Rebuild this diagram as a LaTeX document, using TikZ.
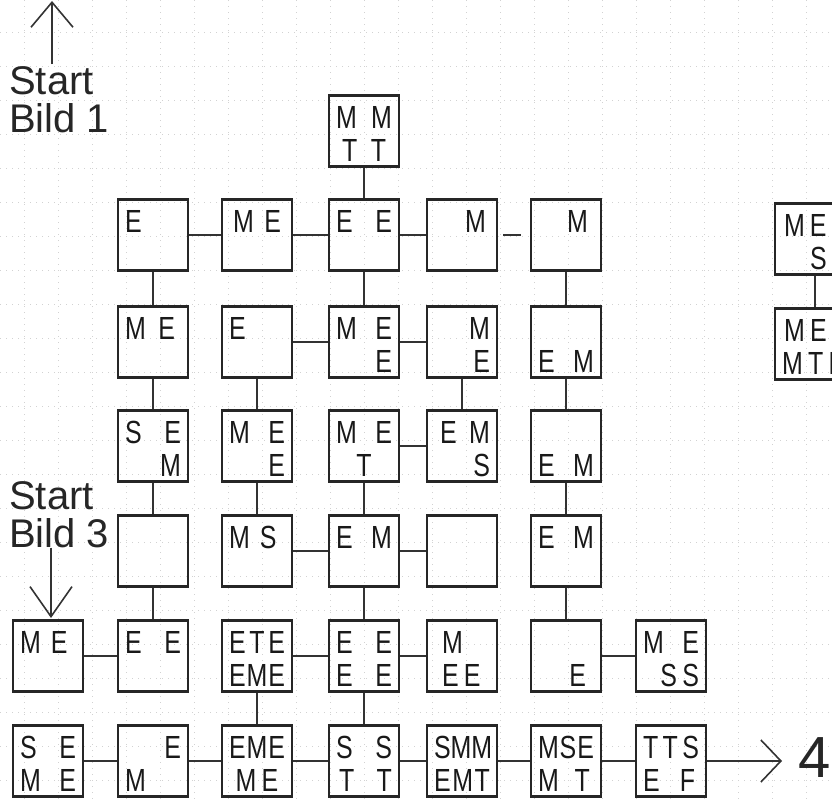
\documentclass[tikz,border=0pt]{standalone}
\usepackage{fontspec}
\setmainfont{Liberation Sans}
\newfontfamily\handfont[FakeStretch=0.78]{Liberation Sans}
\usetikzlibrary{arrows.meta,calc}
\tikzset{
  cell/.style={draw=black!85, line width=2.4pt, minimum width=70pt, minimum height=71pt, inner sep=0pt},
  txt/.style={inner sep=0pt, font=\handfont\fontsize{32}{32}\selectfont, text=black!90},
  conn/.style={draw=black!80, line width=1.6pt},
  gridline/.style={draw=gray!35, line width=0.6pt, dash pattern=on 1pt off 5pt},
  bigtext/.style={inner sep=0pt, font=\fontsize{40}{38}\selectfont, align=left, text=black!85},
  barbtip/.style={-{Straight Barb[length=#1, width=42pt]}},
}
\newcommand\drawmycell[4]{%
  \node[cell] (#1) at (#2) {};%
  \node[txt, anchor=base] (#1-a) at ($(#1.center)+(0,-3)$) {\makebox[56pt][l]{#3}};%
  \node[txt, anchor=base] (#1-b) at ($(#1.center)+(0,30)$) {\makebox[56pt][l]{#4}};%
}
\begin{document}
\begin{tikzpicture}[x=1pt, y=-1pt]
\useasboundingbox (0,0) rectangle (832,803);
\fill[white] (0,0) rectangle (832,803);
\clip (0,0) rectangle (832,803);
% faint graph paper
\foreach \gx in {24,58,...,830} {\draw[gridline] (\gx,0) -- (\gx,803);}
\foreach \gy in {32,66,...,800} {\draw[gridline] (0,\gy) -- (832,\gy);}
% top box
\drawmycell{rT}{364,131}{M\hfill M}{\hspace{6pt}T\hfill T\hspace{6pt}}
% row 0
\drawmycell{r0c1}{153,235}{E}{\strut}
\drawmycell{r0c2}{257,235}{\hspace{4pt}M\hfill E\hspace{4pt}}{\strut}
\drawmycell{r0c3}{364,235}{E\hfill E}{\strut}
\drawmycell{r0c4}{462,235}{\hfill M\hspace{4pt}}{\strut}
\drawmycell{r0c5}{566,235}{\hfill M\hspace{6pt}}{\strut}
% row 1
\drawmycell{r1c1}{153,342}{M\hfill E\hspace{6pt}}{\strut}
\drawmycell{r1c2}{257,342}{E}{\strut}
\drawmycell{r1c3}{364,342}{M\hfill E}{\hfill E}
\drawmycell{r1c4}{462,342}{\hfill M}{\hfill E}
\drawmycell{r1c5}{566,342}{\strut}{E\hfill M}
% row 2
\drawmycell{r2c1}{153,446}{S\hfill E}{\hfill M}
\drawmycell{r2c2}{257,446}{M\hfill E}{\hfill E}
\drawmycell{r2c3}{364,446}{M\hfill E}{\hfill T\hfill}
\drawmycell{r2c4}{462,446}{\hspace{6pt}E\hfill M}{\hfill S}
\drawmycell{r2c5}{566,446}{\strut}{E\hfill M}
% row 3
\drawmycell{r3c1}{153,551}{\strut}{\strut}
\drawmycell{r3c2}{257,551}{M\hspace{10pt}S}{\strut}
\drawmycell{r3c3}{364,551}{E\hfill M}{\strut}
\drawmycell{r3c4}{462,551}{\strut}{\strut}
\drawmycell{r3c5}{566,551}{E\hfill M}{\strut}
% row 4
\drawmycell{r4c0}{48,656}{M\hspace{10pt}E}{\strut}
\drawmycell{r4c1}{153,656}{E\hfill E}{\strut}
\drawmycell{r4c2}{257,656}{E\hfill T\hfill E}{E\hfill M\hfill E}
\drawmycell{r4c3}{364,656}{E\hfill E}{E\hfill E}
\drawmycell{r4c4}{462,656}{\hspace{8pt}M}{\hspace{8pt}E\,E}
\drawmycell{r4c5}{566,656}{\strut}{\hfill E\hspace{8pt}}
\drawmycell{r4c6}{671,656}{M\hfill E}{\hfill S\,S}
% row 5
\drawmycell{r5c0}{48,761}{S\hfill E}{M\hfill E}
\drawmycell{r5c1}{153,761}{\hfill E}{M}
\drawmycell{r5c2}{257,761}{E\hfill M\hfill E}{\hfill M\,E\hfill}
\drawmycell{r5c3}{364,761}{S\hfill S}{\hspace{3pt}T\hfill T}
\drawmycell{r5c4}{462,761}{S\hfill M\hfill M}{E\hfill M\hfill T}
\drawmycell{r5c5}{566,761}{M\hfill S\hfill E}{M\hfill T\hspace{4pt}}
\drawmycell{r5c6}{671,761}{T\hfill T\hfill S}{E\hfill F\hspace{4pt}}
% right boxes (cut by the page edge)
\drawmycell{rA}{810,239}{\hspace{2pt}M\hspace{5pt}E}{\hspace{28pt}S}
\drawmycell{rB}{810,344}{\hspace{2pt}M\,E\,M}{M\,T\,E}
% horizontal connectors
\foreach \p/\q in {r0c1/r0c2, r0c2/r0c3, r0c3/r0c4,
                   r1c2/r1c3, r1c3/r1c4,
                   r2c3/r2c4,
                   r3c2/r3c3, r3c3/r3c4,
                   r4c0/r4c1, r4c2/r4c3, r4c3/r4c4, r4c5/r4c6,
                   r5c0/r5c1, r5c1/r5c2, r5c2/r5c3, r5c3/r5c4, r5c4/r5c5, r5c5/r5c6}
  {\draw[conn] (\p) -- (\q);}
\draw[conn, shorten <=5pt, shorten >=9pt] (r0c4) -- (r0c5);
% vertical connectors
\foreach \p/\q in {rT/r0c3, r0c1/r1c1, r0c3/r1c3, r0c5/r1c5,
                   r1c1/r2c1, r1c2/r2c2, r1c4/r2c4, r1c5/r2c5,
                   r2c1/r3c1, r2c2/r3c2, r2c3/r3c3, r2c5/r3c5,
                   r3c1/r4c1, r3c3/r4c3, r3c5/r4c5,
                   r4c2/r5c2, r4c3/r5c3}
  {\draw[conn] (\p) -- (\q);}
\draw[conn] ([xshift=5pt]rA.south) -- ([xshift=5pt]rB.north);
% start labels and arrows
\node[bigtext, anchor=north west] (start1) at (9,66) {Start\\Bild 1};
\coordinate (a1) at (52,1);
\draw[conn, barbtip=25pt] ([yshift=2pt]a1 |- start1.north) -- (a1);
\node[bigtext, anchor=north west] (start3) at (9,481) {Start\\Bild 3};
\coordinate (a3) at (51,618);
\draw[conn, barbtip=30pt] (a3 |- start3.south) -- (a3);
% exit arrow to 4
\coordinate (a4) at (782,761);
\draw[conn, barbtip=20pt] (r5c6) -- (a4);
\node[inner sep=0pt, font=\fontsize{58}{58}\selectfont, text=black!85] (four) at (815,758) {4};
\end{tikzpicture}
\end{document}
